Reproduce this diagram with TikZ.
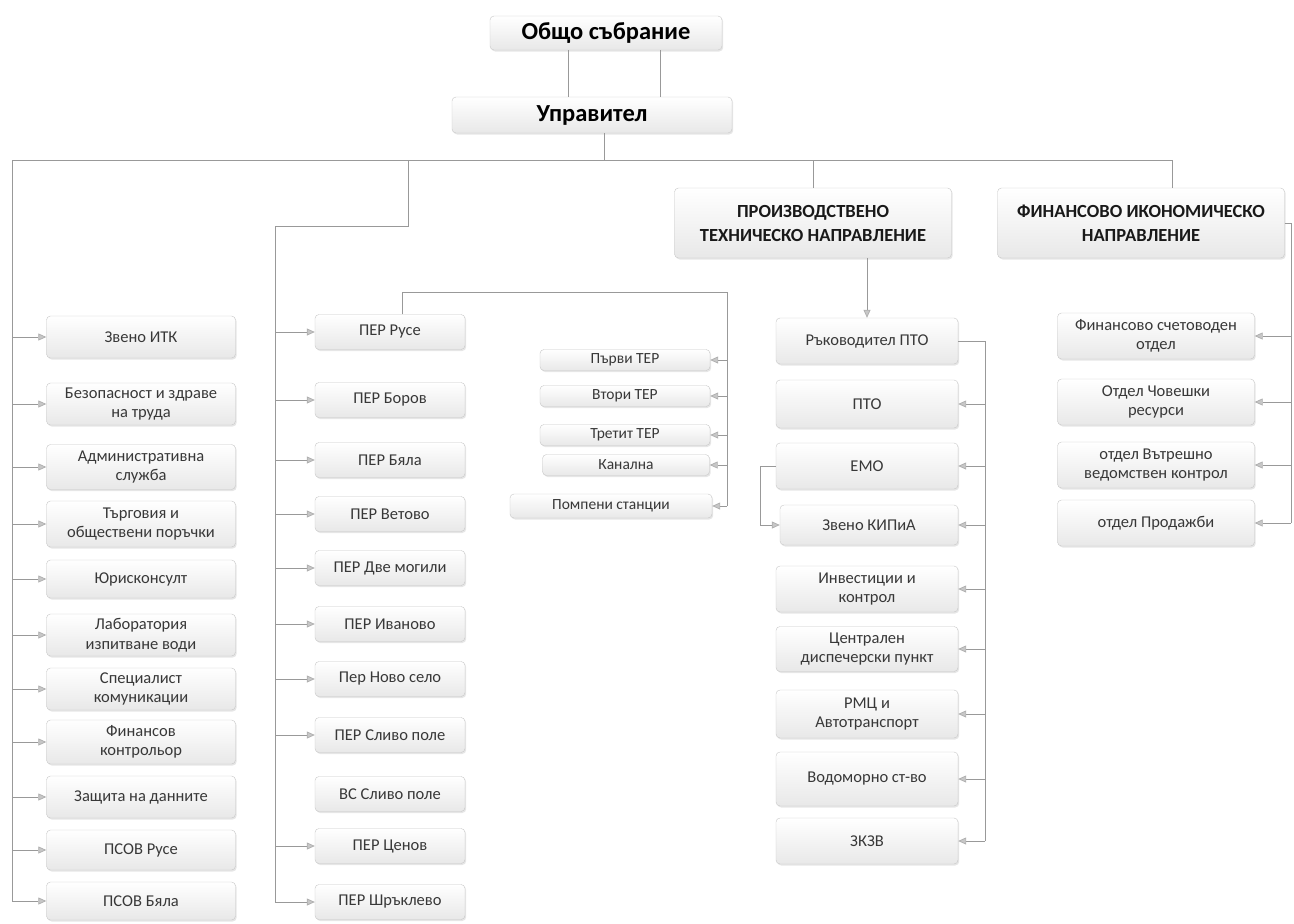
\documentclass[tikz,border=0pt]{standalone}
\usepackage{fontspec}
\setmainfont{Carlito}
\usetikzlibrary{arrows.meta,shadows}

\begin{document}
\begin{tikzpicture}[x=1pt,y=-1pt,
    box/.style={draw=black!22, rounded corners=4pt, top color=white, bottom color=black!9,
        drop shadow={opacity=0.2, shadow xshift=1.2pt, shadow yshift=-1.5pt},
        align=center, inner sep=1pt, text=black!78, font=\fontsize{16.5}{19.5}\selectfont},
    topbox/.style={box, text=black, font=\fontsize{24.5}{28}\selectfont\bfseries},
    dirbox/.style={box, text=black!90, font=\fontsize{18.5}{24}\selectfont\bfseries},
    lbox/.style={box, minimum width=189pt, minimum height=42pt},
    mbox/.style={box, minimum width=150pt, minimum height=35pt},
    tbox/.style={box, minimum width=170pt, minimum height=21pt, font=\fontsize{15.5}{17}\selectfont},
    pbox/.style={box, minimum width=182pt, minimum height=46pt},
    fbox/.style={box, minimum width=197pt, minimum height=46pt},
    conn/.style={draw=black!40, line width=0.7pt},
    arr/.style={conn, -{Triangle[length=8pt,width=7pt,color=black!32,fill=black!22]}}]
    \useasboundingbox (0,0) rectangle (1294,924);

    % top of the chart
    \node[topbox, minimum width=232pt, minimum height=34pt] (obs) at (606,33) {Общо събрание};
    \node[topbox, minimum width=280pt, minimum height=36pt] (upr) at (592,115) {Управител};
    \node[dirbox, minimum width=277pt, minimum height=70pt] (ptn) at (813,223) {ПРОИЗВОДСТВЕНО\\ТЕХНИЧЕСКО НАПРАВЛЕНИЕ};
    \node[dirbox, minimum width=287pt, minimum height=70pt] (fnp) at (1141,223) {ФИНАНСОВО ИКОНОМИЧЕСКО\\НАПРАВЛЕНИЕ};

    % left column
    \node[lbox] (itk) at (141,337) {Звено ИТК};
    \node[lbox] (bez) at (141,404) {Безопасност и здраве\\на труда};
    \node[lbox, minimum height=45pt] (adm) at (141,467) {Административна\\служба};
    \node[lbox, minimum height=46pt] (targ) at (141,524) {Търговия и\\обществени поръчки};
    \node[lbox, minimum height=38pt] (yur) at (141,579) {Юрисконсулт};
    \node[lbox] (lab) at (141,635) {Лаборатория\\изпитване води};
    \node[lbox] (spec) at (141,689) {Специалист\\комуникации};
    \node[lbox, minimum height=44pt] (fkon) at (141,742) {Финансов\\контрольор};
    \node[lbox] (zash) at (141,797) {Защита на данните};
    \node[lbox, minimum height=40pt] (psovr) at (141,850) {ПСОВ Русе};
    \node[lbox, minimum height=38pt] (psovb) at (141,901) {ПСОВ Бяла};

    % middle column
    \node[mbox] (pru) at (390,332) {ПЕР Русе};
    \node[mbox] (pbor) at (390,400) {ПЕР Боров};
    \node[mbox] (pbya) at (390,460) {ПЕР Бяла};
    \node[mbox] (pvet) at (390,514) {ПЕР Ветово};
    \node[mbox] (pdve) at (390,568) {ПЕР Две могили};
    \node[mbox] (piva) at (390,624) {ПЕР Иваново};
    \node[mbox] (pnov) at (390,679) {Пер Ново село};
    \node[mbox] (pslp) at (390,735) {ПЕР Сливо поле};
    \node[mbox] (vssp) at (390,794) {ВС Сливо поле};
    \node[mbox] (pcen) at (390,846) {ПЕР Ценов};
    \node[mbox] (pshr) at (390,902) {ПЕР Шръклево};

    % ТЕР boxes
    \node[tbox] (ter1) at (625,360) {Първи ТЕР};
    \node[tbox] (ter2) at (625,396) {Втори ТЕР};
    \node[tbox] (ter3) at (625,435) {Третит ТЕР};
    \node[tbox, minimum width=167pt] (kan) at (626,465) {Канална};
    \node[tbox, minimum width=202pt, minimum height=24pt] (pomp) at (611,506) {Помпени станции};

    % production column
    \node[pbox] (rpto) at (867,341) {Ръководител ПТО};
    \node[pbox, minimum height=48pt] (pto) at (867,404) {ПТО};
    \node[pbox] (emo) at (867,466) {ЕМО};
    \node[pbox, minimum width=178pt, minimum height=40pt] (kipia) at (869,525) {Звено КИПиА};
    \node[pbox] (inv) at (867,589) {Инвестиции и\\контрол};
    \node[pbox, minimum height=45pt] (cdp) at (867,649) {Централен\\диспечерски пункт};
    \node[pbox, minimum height=48pt] (rmc) at (867,714) {РМЦ и\\Автотранспорт};
    \node[pbox, minimum height=54pt] (vod) at (867,779) {Водоморно ст-во};
    \node[pbox] (zkzv) at (867,841) {ЗКЗВ};

    % finance column
    \node[fbox] (fsch) at (1156,336) {Финансово счетоводен\\отдел};
    \node[fbox] (fchr) at (1156,402) {Отдел Човешки\\ресурси};
    \node[fbox] (fvvk) at (1156,465) {отдел Вътрешно\\ведомствен контрол};
    \node[fbox] (fprod) at (1156,523) {отдел Продажби};

    % connectors
    \coordinate (bus) at (604,160);
    \coordinate (busw) at (12,160);
    \coordinate (buse) at (1172,160);
    \coordinate (busm) at (408,160);
    \coordinate (bendm) at (275,226);
    \coordinate (terr) at (727,292);
    \coordinate (busp) at (985,341);
    \coordinate (emol) at (760,466);
    \coordinate (busf) at (1291,223);

    \draw[conn] ([xshift=-38pt]obs.south) -- ([xshift=-38pt]obs.south |- upr.north);
    \draw[conn] ([xshift=54pt]obs.south) -- ([xshift=54pt]obs.south |- upr.north);
    \draw[conn] ([xshift=12pt]upr.south) -- (bus);
    \draw[conn] (busw) -- (buse);
    \draw[conn] (busw) -- (busw |- psovb);
    \foreach \n in {itk,bez,adm,targ,yur,lab,spec,fkon,zash,psovr,psovb}
        \draw[arr] (busw |- \n) -- (\n.west);
    \draw[conn] (busm) |- (bendm) -- (bendm |- pshr);
    \foreach \n in {pru,pbor,pbya,pvet,pdve,piva,pnov,pslp,pcen,pshr}
        \draw[arr] (bendm |- \n) -- (\n.west);
    \draw[conn] ([xshift=12pt]pru.north) |- (terr) -- (terr |- pomp);
    \foreach \n in {ter1,ter2,ter3,kan,pomp}
        \draw[arr] (terr |- \n) -- (\n.east);
    \draw[conn] (ptn.north |- busw) -- (ptn.north);
    \draw[conn] (buse) -- (buse |- fnp.north);
    \draw[arr] (rpto.north |- ptn.south) -- (rpto.north);
    \draw[conn] (rpto.east) -- (busp) -- (busp |- zkzv);
    \foreach \n in {pto,emo,kipia,inv,cdp,rmc,vod,zkzv}
        \draw[arr] (busp |- \n) -- (\n.east);
    \draw[arr] (emo.west) -- (emol) |- (kipia.west);
    \draw[conn] (fnp.east) -- (busf) -- (busf |- fprod);
    \foreach \n in {fsch,fchr,fvvk,fprod}
        \draw[arr] (busf |- \n) -- (\n.east);
\end{tikzpicture}
\end{document}
